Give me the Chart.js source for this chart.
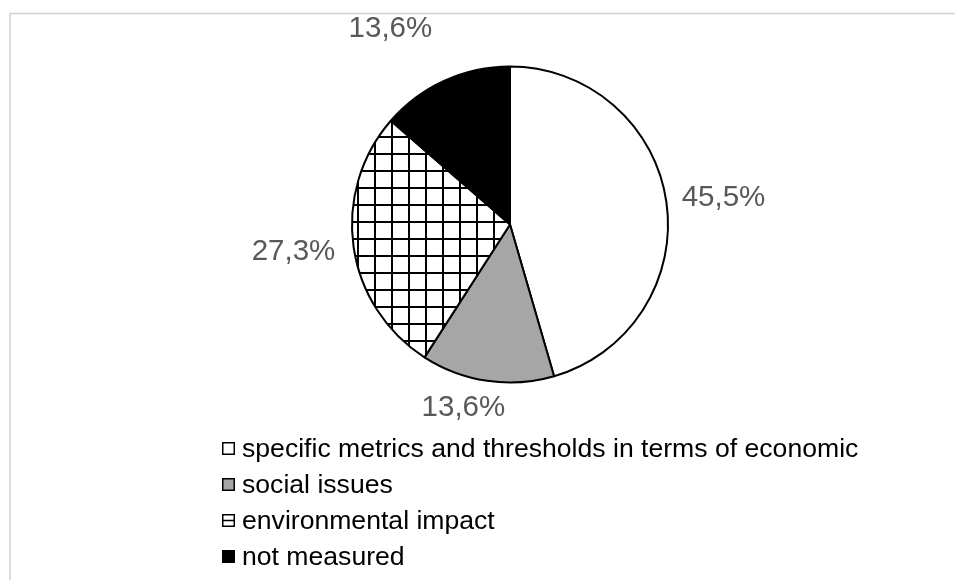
<!DOCTYPE html>
<html>
<head>
<meta charset="utf-8">
<script src="https://cdn.jsdelivr.net/npm/chart.js@4/dist/chart.umd.min.js"></script>
<style>
  html, body { margin: 0; padding: 0; background: #ffffff; overflow: hidden; }
  #wrap { position: relative; width: 955px; height: 580px; }
</style>
</head>
<body>
<div id="wrap"><canvas id="chart" width="955" height="580"></canvas></div>
<script>
// Share of respondents by how impact is measured (percent)
const categories = [
  'specific metrics and thresholds in terms of economic',
  'social issues',
  'environmental impact',
  'not measured'
];
const shares = [45.5, 13.6, 27.3, 13.6];

const FONT = '"Liberation Sans", Arial, sans-serif';

// White tile with a black grid, used for the "environmental impact" slice
function gridPattern(ctx) {
  const s = 17;
  const p = document.createElement('canvas');
  p.width = s; p.height = s;
  const g = p.getContext('2d');
  g.fillStyle = '#ffffff';
  g.fillRect(0, 0, s, s);
  g.fillStyle = '#000000';
  g.fillRect(0, 0, s, 2);
  g.fillRect(0, 0, 2, s);
  return ctx.createPattern(p, 'repeat');
}

const canvas = document.getElementById('chart');
const ctx2d = canvas.getContext('2d');
const grid = gridPattern(ctx2d);

const fills = ['#ffffff', '#a6a6a6', grid, '#000000'];

const fmt = v => v.toFixed(1).replace('.', ',') + '%';

// Light frame around the plot
const framePlugin = {
  id: 'frame',
  beforeDraw(chart) {
    const c = chart.ctx;
    c.save();
    c.strokeStyle = '#d4d4d4';
    c.lineWidth = 1.6;
    c.strokeRect(10, 13.5, 2000, 2000);
    c.restore();
  }
};

// Percentage labels just outside each slice
const sliceLabels = {
  id: 'sliceLabels',
  afterDatasetsDraw(chart, args, opts) {
    const c = chart.ctx;
    const meta = chart.getDatasetMeta(0);
    const values = chart.data.datasets[0].data;
    c.save();
    c.font = opts.font;
    c.fillStyle = opts.color;
    c.textAlign = 'center';
    c.textBaseline = 'middle';
    meta.data.forEach((arc, i) => {
      const p = arc.getProps(['x', 'y', 'startAngle', 'endAngle', 'outerRadius'], true);
      const text = fmt(values[i]);
      const w = c.measureText(text).width;
      const h = opts.boxHeight;
      const a = (p.startAngle + p.endAngle) / 2 + (opts.angleShift[i] || 0) * Math.PI / 180;
      const ux = Math.cos(a), uy = Math.sin(a);
      const ex = Math.abs(ux) > 1e-6 ? (w / 2) / Math.abs(ux) : Infinity;
      const ey = Math.abs(uy) > 1e-6 ? (h / 2) / Math.abs(uy) : Infinity;
      const d = p.outerRadius + opts.gap[i] + Math.min(ex, ey);
      c.fillText(text, p.x + ux * d, p.y + uy * d);
    });
    c.restore();
  }
};

// Vertical legend under the pie
const listLegend = {
  id: 'listLegend',
  afterDraw(chart, args, opts) {
    const c = chart.ctx;
    const ds = chart.data.datasets[0];
    c.save();
    c.font = opts.font;
    c.textBaseline = 'middle';
    c.textAlign = 'left';
    chart.data.labels.forEach((label, i) => {
      const cy = opts.top + i * opts.step;
      const bx = opts.left, by = Math.round(cy - opts.box / 2);
      c.fillStyle = typeof ds.backgroundColor[i] === 'string' ? ds.backgroundColor[i] : '#ffffff';
      c.fillRect(bx, by, opts.box, opts.box);
      c.strokeStyle = '#000000';
      c.lineWidth = 1.5;
      c.strokeRect(bx + 0.75, by + 0.75, opts.box - 1.5, opts.box - 1.5);
      if (typeof ds.backgroundColor[i] !== 'string') {
        c.beginPath();
        c.moveTo(bx, by + opts.box / 2);
        c.lineTo(bx + opts.box, by + opts.box / 2);
        c.stroke();
      }
      c.fillStyle = opts.color;
      c.fillText(label, bx + opts.box + opts.textGap, cy + 1);
    });
    c.restore();
  }
};

new Chart(canvas, {
  type: 'pie',
  data: {
    labels: categories,
    datasets: [{
      data: shares,
      backgroundColor: fills,
      borderColor: '#000000',
      borderWidth: 2,
      hoverOffset: 0
    }]
  },
  options: {
    responsive: false,
    animation: false,
    events: [],
    radius: 158,
    layout: { padding: { left: 100, right: 35, top: 20, bottom: 151 } },
    plugins: {
      legend: { display: false },
      tooltip: { enabled: false },
      sliceLabels: {
        font: '29.5px ' + FONT,
        color: '#595959',
        boxHeight: 29,
        gap: [15, 16, 18, 54],
        angleShift: [1, 6, 1, -7]
      },
      listLegend: {
        font: '26.6px ' + FONT,
        color: '#000000',
        left: 222,
        top: 448.5,
        step: 36,
        box: 13,
        textGap: 7
      }
    }
  },
  plugins: [framePlugin, sliceLabels, listLegend]
});
</script>
</body>
</html>
